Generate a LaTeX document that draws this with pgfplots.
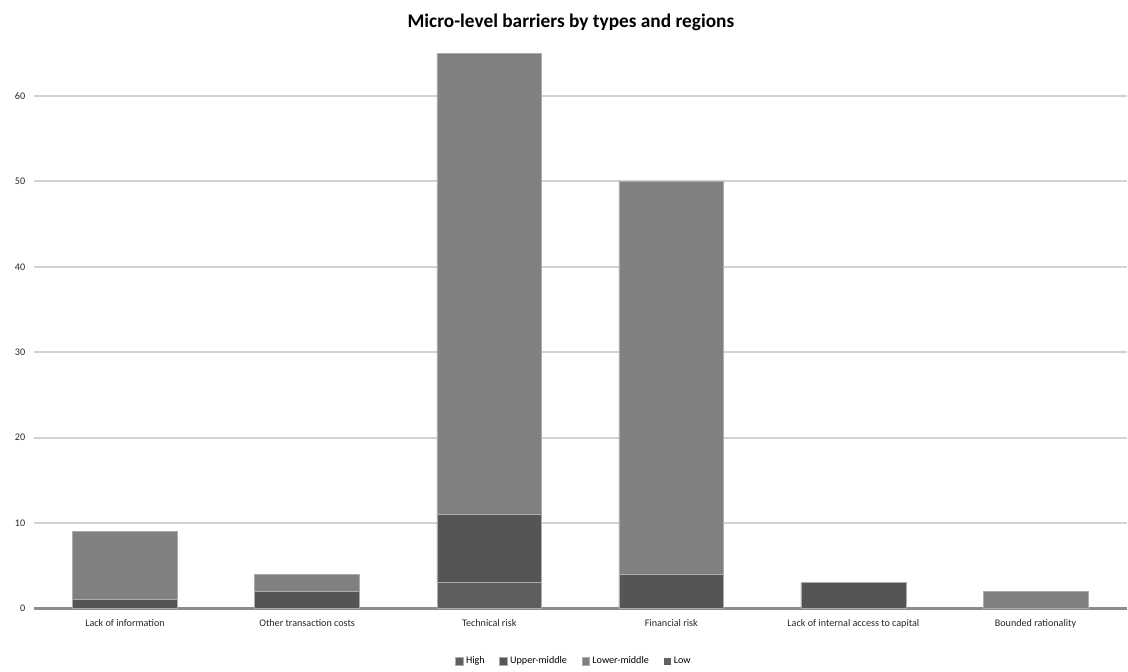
\documentclass[border=0pt]{standalone}
\usepackage{pgfplots}
\pgfplotsset{compat=1.18}
\usepackage{fontspec}
\setmainfont{Carlito}
\definecolor{cHigh}{HTML}{5E5E5E}
\definecolor{cUpper}{HTML}{555555}
\definecolor{cLower}{HTML}{808080}
\definecolor{cLow}{HTML}{626262}
\definecolor{gridc}{HTML}{D2D2D2}
\definecolor{axisc}{HTML}{8C8C8C}
\begin{document}
\begin{tikzpicture}
\begin{axis}[
  at={(0,0)}, anchor=south west,
  scale only axis,
  width=820.5pt, height=423pt,
  ybar stacked,
  bar width=78.75pt,
  xmin=-0.5, xmax=5.5,
  ymin=0, ymax=66,
  xtick={0,1,2,3,4,5},
  xticklabels={Lack of information,Other transaction costs,Technical risk,Financial risk,Lack of internal access to capital,Bounded rationality},
  ytick={0,10,20,30,40,50,60},
  axis line style={draw=none},
  major tick length=0pt,
  ymajorgrids,
  grid style={draw=gridc, line width=1.5pt},
  tick label style={font=\fontsize{7.6}{8}\selectfont, text=black!85},
  /pgf/number format/assume math mode=true,
  xticklabel style={yshift=-5pt},
  yticklabel style={xshift=-3pt},
  title={\textbf{Micro-level barriers by types and regions}},
  title style={at={(rel axis cs:0.5,1)}, anchor=center, yshift=11pt, xshift=-7pt, font=\fontsize{14.5}{16}\selectfont},
  legend columns=4,
  legend style={at={(rel axis cs:0.4945,0)}, anchor=center, yshift=-40pt, draw=none, fill=none, font=\fontsize{7.6}{8}\selectfont, /tikz/every even column/.append style={column sep=9pt}},
  legend image code/.code={\fill[#1] (0cm,-0.1cm) rectangle (0.2cm,0.1cm);},
  clip=false,
]
\addplot[fill=cHigh, draw=gray!65, line width=0.4pt] coordinates {(0,0) (1,0) (2,3) (3,0) (4,0) (5,0)};
\addplot[fill=cUpper, draw=gray!65, line width=0.4pt] coordinates {(0,1) (1,2) (2,8) (3,4) (4,3) (5,0)};
\addplot[fill=cLower, draw=gray!65, line width=0.4pt] coordinates {(0,8) (1,2) (2,54) (3,46) (4,0) (5,2)};
\addplot[fill=cLow, draw=none] coordinates {(0,0) (1,0) (2,0) (3,0) (4,0) (5,0)};
\legend{High,Upper-middle,Lower-middle,Low}
\draw[axisc, line width=2.2pt] (rel axis cs:0,0) -- (rel axis cs:1,0);
\end{axis}
\path[use as bounding box] (-25.5pt,-47.25pt) rectangle (820.5pt,456.75pt);
\end{tikzpicture}
\end{document}
